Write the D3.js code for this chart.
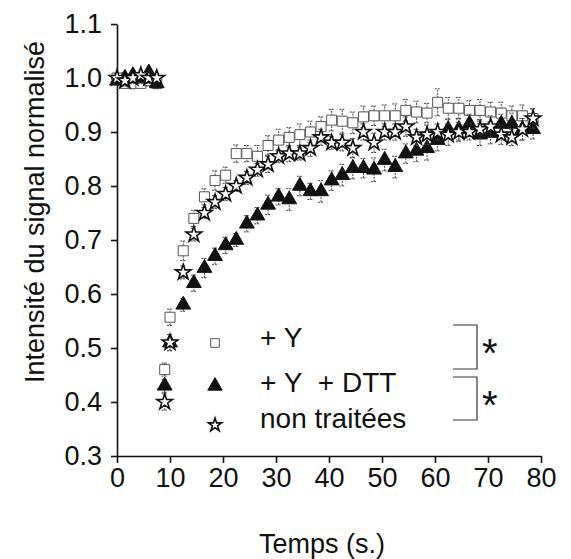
<!DOCTYPE html>
<html lang="fr">
<head>
<meta charset="UTF-8">
<title>Intensité du signal normalisé</title>
<style>
  body { margin: 0; background: #fff; }
  text { font-family: "Liberation Sans", Arial, sans-serif; fill: #111; }
</style>
</head>
<body>
<script src="https://cdn.jsdelivr.net/npm/d3@7"></script>
<script>
const width = 571, height = 559;

// time points (s), pre-bleach then post-bleach
const times = [0, 1.5, 3, 4.5, 6, 7.5,
  9, 10, 12.5, 14.5, 16.5, 18.5, 20.5, 22.5, 24.5, 26.5, 28.5, 30.5, 32.5, 34.5, 36.5, 38.5,
  40.5, 42.5, 44.5, 46.5, 48.5, 50.5, 52.5, 54.5, 56.5, 58.5, 60.5, 62.5, 64.5, 66.5, 68.5,
  70.5, 72.5, 74.5, 76.5, 78.5];

// + Y (open squares)
const plusY = [1.0, 0.99, 0.99, 0.99, 0.995, 0.99,
  0.46, 0.557, 0.68, 0.74, 0.78, 0.81, 0.82, 0.86, 0.86, 0.855, 0.875, 0.885, 0.89, 0.895, 0.90, 0.91,
  0.922, 0.92, 0.917, 0.928, 0.93, 0.93, 0.93, 0.94, 0.937, 0.935, 0.955, 0.944, 0.944, 0.94, 0.94,
  0.937, 0.935, 0.93, 0.93, 0.925];
const plusYErr = [0.008, 0.008, 0.01, 0.008, 0.01, 0.008,
  0.012, 0.015, 0.018, 0.015, 0.015, 0.018, 0.015, 0.016, 0.015, 0.02, 0.018, 0.02, 0.018, 0.02, 0.02, 0.018,
  0.02, 0.022, 0.02, 0.02, 0.018, 0.02, 0.022, 0.02, 0.02, 0.018, 0.025, 0.02, 0.02, 0.018, 0.02,
  0.018, 0.02, 0.018, 0.02, 0.018];

// + Y + DTT (filled triangles)
const plusYDtt = [0.995, 1.0, 1.005, 1.0, 1.01, 0.99,
  0.43, 0.51, 0.58, 0.62, 0.648, 0.67, 0.69, 0.70, 0.73, 0.745, 0.765, 0.78, 0.775, 0.80, 0.79, 0.79,
  0.81, 0.82, 0.833, 0.833, 0.83, 0.848, 0.835, 0.86, 0.865, 0.87, 0.885, 0.905, 0.905, 0.915, 0.895,
  0.898, 0.915, 0.915, 0.905, 0.905];
const plusYDttErr = [0.008, 0.01, 0.008, 0.01, 0.008, 0.01,
  0.012, 0.015, 0.012, 0.015, 0.018, 0.015, 0.015, 0.012, 0.015, 0.015, 0.018, 0.015, 0.02, 0.018, 0.015, 0.02,
  0.018, 0.02, 0.02, 0.018, 0.022, 0.02, 0.02, 0.018, 0.02, 0.022, 0.02, 0.018, 0.02, 0.018, 0.02,
  0.02, 0.018, 0.02, 0.02, 0.018];

// non traitées (stars)
const untreated = [1.0, 0.995, 1.0, 1.005, 1.0, 1.0,
  0.40, 0.51, 0.64, 0.71, 0.75, 0.77, 0.785, 0.80, 0.815, 0.83, 0.84, 0.855, 0.86, 0.86, 0.87, 0.89,
  0.88, 0.88, 0.87, 0.90, 0.88, 0.90, 0.90, 0.91, 0.89, 0.895, 0.90, 0.895, 0.90, 0.90, 0.905,
  0.91, 0.895, 0.89, 0.905, 0.925];
const untreatedErr = [0.008, 0.01, 0.01, 0.008, 0.01, 0.008,
  0.015, 0.015, 0.012, 0.012, 0.01, 0.012, 0.012, 0.01, 0.012, 0.012, 0.015, 0.012, 0.015, 0.012, 0.015, 0.015,
  0.012, 0.015, 0.018, 0.015, 0.018, 0.015, 0.015, 0.018, 0.015, 0.018, 0.015, 0.02, 0.018, 0.015, 0.018,
  0.02, 0.018, 0.015, 0.02, 0.018];

const xTicks = [0, 10, 20, 30, 40, 50, 60, 70, 80];
const yTicks = [0.3, 0.4, 0.5, 0.6, 0.7, 0.8, 0.9, 1.0, 1.1];
const legendLabels = ["+ Y", "+ Y\u00a0 + DTT", "non traitées"];

const x = d3.scaleLinear().domain([0, 80]).range([117, 541]);
const y = d3.scaleLinear().domain([0.3, 1.1]).range([456, 24]);

const svg = d3.select("body").append("svg")
    .attr("width", width)
    .attr("height", height)
    .attr("viewBox", [0, 0, width, height]);

// axes
svg.append("g")
    .attr("transform", `translate(${x(0)},0)`)
    .call(d3.axisLeft(y).tickValues(yTicks).tickFormat(d3.format(".1f")).tickSize(6).tickSizeOuter(0).tickPadding(9))
    .call(g => g.selectAll("text").style("font-size", "27px").attr("fill", "#111"))
    .call(g => g.selectAll("line, path").attr("stroke", "#111").attr("stroke-width", 1.6));

svg.append("g")
    .attr("transform", `translate(0,${y(0.3)})`)
    .call(d3.axisBottom(x).tickValues(xTicks).tickSize(7).tickSizeOuter(0).tickPadding(5))
    .call(g => g.selectAll("text").style("font-size", "27px").attr("fill", "#111"))
    .call(g => g.selectAll("line, path").attr("stroke", "#111").attr("stroke-width", 1.6));

svg.append("text")
    .attr("transform", `translate(44,212) rotate(-90)`)
    .attr("text-anchor", "middle")
    .style("font-size", "27px")
    .text("Intensité du signal normalisé");

svg.append("text")
    .attr("x", 322).attr("y", 553)
    .attr("text-anchor", "middle")
    .style("font-size", "27px")
    .text("Temps (s.)");

const series = [
  {name: legendLabels[0], values: plusY, err: plusYErr, symbol: d3.symbolSquare, size: 100, fill: "#fff", stroke: "#555", sw: 1},
  {name: legendLabels[1], values: plusYDtt, err: plusYDttErr, symbol: d3.symbolTriangle, size: 95, fill: "#111", stroke: "#111", sw: 1},
  {name: legendLabels[2], values: untreated, err: untreatedErr, symbol: d3.symbolStar, size: 75, fill: "#fff", stroke: "#111", sw: 1.6}
];

series.forEach(s => {
  const pts = times.map((t, i) => ({t, v: s.values[i], e: s.err[i]}));
  const g = svg.append("g");
  const eb = g.append("g")
      .attr("stroke", "#444")
      .attr("stroke-width", 1)
      .attr("stroke-dasharray", "2,1");
  eb.selectAll("line.v").data(pts).join("line")
      .attr("x1", d => x(d.t)).attr("x2", d => x(d.t))
      .attr("y1", d => y(d.v - d.e)).attr("y2", d => y(d.v + d.e));
  eb.selectAll("line.c").data(pts.flatMap(d => [d.v - d.e, d.v + d.e].map(v => ({t: d.t, v})))).join("line")
      .attr("x1", d => x(d.t) - 3).attr("x2", d => x(d.t) + 3)
      .attr("y1", d => y(d.v)).attr("y2", d => y(d.v));
  g.selectAll("path.m").data(pts).join("path")
      .attr("d", d3.symbol(s.symbol, s.size))
      .attr("transform", d => `translate(${x(d.t)},${y(d.v)})`)
      .attr("fill", s.fill)
      .attr("stroke", s.stroke)
      .attr("stroke-width", s.sw);
});

// legend
const legend = svg.append("g");
const legendY = [343, 386, 425];
const legendBase = [347, 392, 428];
const legendSize = [75, 90, 55];
series.forEach((s, i) => {
  legend.append("path")
      .attr("d", d3.symbol(s.symbol, legendSize[i]))
      .attr("transform", `translate(215,${legendY[i]})`)
      .attr("fill", s.fill)
      .attr("stroke", s.stroke)
      .attr("stroke-width", s.sw);
  legend.append("text")
      .attr("x", 260).attr("y", legendBase[i])
      .style("font-size", "28px")
      .text(s.name);
});

// significance brackets
const brackets = [[325, 369], [377, 420]];
brackets.forEach(([y0, y1]) => {
  svg.append("path")
      .attr("d", `M453,${y0}H477V${y1}H453`)
      .attr("fill", "none")
      .attr("stroke", "#333")
      .attr("stroke-width", 1.2);
  svg.append("text")
      .attr("x", 482).attr("y", (y0 + y1) / 2 + 20)
      .style("font-size", "40px")
      .text("*");
});
</script>
</body>
</html>
